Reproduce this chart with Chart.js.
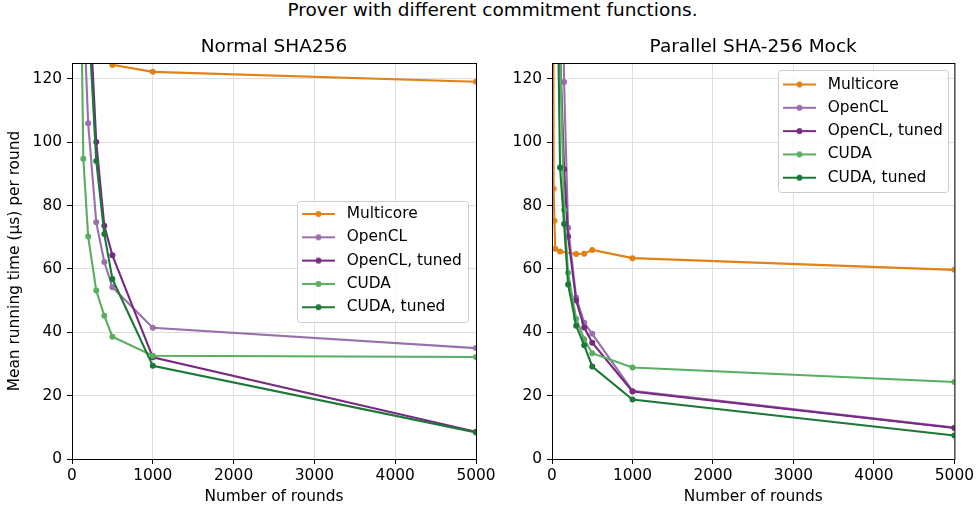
<!DOCTYPE html>
<html><head><meta charset="utf-8">
<script src="https://cdn.jsdelivr.net/npm/chart.js@4"></script>
<style>
html,body{margin:0;padding:0;background:#fff;width:977px;height:514px;overflow:hidden;}
#sup{position:absolute;left:0;top:0;width:985px;text-align:center;font-family:'DejaVu Sans';font-size:18.5px;line-height:20px;color:#000;}
canvas{position:absolute;top:0;}
</style></head><body>
<div id="sup">Prover with different commitment functions.</div>
<canvas id="c1" width="500" height="514" style="left:0px"></canvas>
<canvas id="c2" width="497" height="514" style="left:480px"></canvas>
<script>
// ---- data ----
const seriesLabels = ['Multicore', 'OpenCL', 'OpenCL, tuned', 'CUDA', 'CUDA, tuned'];
const seriesColors = ['#e08214', '#9970ab', '#762a83', '#5aae61', '#1b7837'];
const xTicks = [0, 1000, 2000, 3000, 4000, 5000];
const yTicks = [0, 20, 40, 60, 80, 100, 120];

// Left panel: Normal SHA256
const normalMulticoreRounds = [300, 400, 500, 1000, 5000];
const normalMulticoreTime   = [140, 128.5, 124.4, 122.2, 119.1];
const normalOpenclRounds = [100, 200, 300, 400, 500, 1000, 5000];
const normalOpenclTime   = [170, 106, 74.7, 62.2, 54.2, 41.4, 35.0];
const normalOpenclTunedRounds = [200, 300, 400, 500, 1000, 5000];
const normalOpenclTunedTime   = [152, 100.1, 73.6, 64.3, 32.1, 8.6];
const normalCudaRounds = [100, 140, 200, 300, 400, 500, 1000, 5000];
const normalCudaTime   = [170, 94.8, 70.2, 53.2, 45.2, 38.6, 32.6, 32.2];
const normalCudaTunedRounds = [200, 300, 400, 500, 1000, 5000];
const normalCudaTunedTime   = [141, 94.1, 71.0, 56.8, 29.4, 8.4];

// Right panel: Parallel SHA-256 Mock
const mockMulticoreRounds = [10, 20, 30, 40, 100, 300, 400, 500, 1000, 5000];
const mockMulticoreTime   = [250, 85.3, 75.2, 66.4, 65.5, 64.7, 64.8, 66.0, 63.4, 59.7];
const mockOpenclRounds = [100, 150, 200, 300, 400, 500, 1000, 5000];
const mockOpenclTime   = [220, 119, 73, 51, 43, 39.5, 21.5, 9.9];
const mockOpenclTunedRounds = [100, 150, 200, 300, 400, 500, 1000, 5000];
const mockOpenclTunedTime   = [129, 91.5, 70.2, 50.0, 41.5, 36.7, 21.3, 9.8];
const mockCudaRounds = [50, 100, 150, 200, 300, 400, 500, 1000, 5000];
const mockCudaTime   = [250, 130, 78.6, 58.8, 44.3, 37.8, 33.4, 28.9, 24.3];
const mockCudaTunedRounds = [50, 100, 150, 200, 300, 400, 500, 1000, 5000];
const mockCudaTunedTime   = [183, 92.0, 74.2, 55.1, 42.1, 35.9, 29.2, 18.8, 7.4];

// ---- drawing ----
Chart.defaults.font.family = "'DejaVu Sans'";
Chart.defaults.color = '#000';
const BASE = 15.4;

function makeHandle(color) {
  const c = document.createElement('canvas');
  c.width = 37; c.height = 10;
  const g = c.getContext('2d');
  g.strokeStyle = color; g.lineWidth = 2.1;
  g.beginPath(); g.moveTo(0, 5); g.lineTo(33, 5); g.stroke();
  g.fillStyle = color;
  g.beginPath(); g.arc(16.5, 5, 3, 0, Math.PI * 2); g.fill();
  return c;
}
const handles = seriesColors.map(makeHandle);

function roundRectPath(ctx, x, y, w, h, r) {
  ctx.beginPath();
  ctx.moveTo(x + r, y);
  ctx.lineTo(x + w - r, y); ctx.arcTo(x + w, y, x + w, y + r, r);
  ctx.lineTo(x + w, y + h - r); ctx.arcTo(x + w, y + h, x + w - r, y + h, r);
  ctx.lineTo(x + r, y + h); ctx.arcTo(x, y + h, x, y + h - r, r);
  ctx.lineTo(x, y + r); ctx.arcTo(x, y, x + r, y, r);
  ctx.closePath();
}

const framePlugin = {
  id: 'legendFrame',
  afterUpdate(chart, args, o) {
    const lg = chart.legend;
    if (!lg || !o || o.x === undefined) return;
    const pad = lg.options.labels.padding;
    lg.left = o.x + o.inset - pad;
    lg.top = o.y + o.firstRow - BASE / 2 - pad;
    lg.right = o.x + o.w;
    lg.bottom = o.y + o.h + 30;
    lg.width = lg.right - lg.left;
    lg.height = lg.bottom - lg.top;
    lg.adjustHitBoxes();
    if (!lg._framed) {
      const orig = lg.draw.bind(lg);
      lg.draw = function (area) {
        const ctx = chart.ctx;
        ctx.save();
        roundRectPath(ctx, o.x + 0.5, o.y + 0.5, o.w, o.h, 3);
        ctx.fillStyle = 'rgba(255,255,255,0.8)'; ctx.fill();
        ctx.strokeStyle = '#cccccc'; ctx.lineWidth = 1; ctx.stroke();
        ctx.restore();
        orig(area);
      };
      lg._framed = true;
    }
  },
  afterDatasetsDraw(chart) {
    const a = chart.chartArea, ctx = chart.ctx;
    ctx.save();
    ctx.strokeStyle = '#000'; ctx.lineWidth = 1;
    ctx.strokeRect(a.left + 0.5, a.top + 0.5, a.right - a.left, a.bottom - a.top);
    ctx.restore();
  }
};

function buildChart(id, title, rounds, times, yTitle, frame, rightPad) {
  const datasets = seriesLabels.map((lab, i) => ({
    label: lab,
    data: rounds[i].map((x, j) => ({ x: x, y: times[i][j] })),
    borderColor: seriesColors[i],
    backgroundColor: seriesColors[i],
    pointBackgroundColor: seriesColors[i],
    pointBorderWidth: 0,
    pointRadius: 3,
    borderWidth: 2.1,
    tension: 0,
    clip: 0,
    fill: false,
    order: 10 - i
  }));
  return new Chart(document.getElementById(id), {
    type: 'line',
    data: { datasets },
    plugins: [framePlugin],
    options: {
      responsive: false,
      animation: false,
      devicePixelRatio: 1,
      events: [],
      layout: { padding: { left: 0, right: rightPad, top: 0, bottom: 0 } },
      plugins: {
        tooltip: { enabled: false },
        title: {
          display: true, text: title, color: '#000', fullSize: false,
          font: { size: 18.5, weight: 'normal' },
          padding: { top: 35.9, bottom: 4.9 }
        },
        legend: {
          display: true,
          position: 'chartArea',
          align: 'start',
          labels: {
            usePointStyle: true,
            pointStyleWidth: 37,
            boxHeight: BASE,
            padding: 7.9,
            color: '#000',
            font: { size: BASE },
            generateLabels(chart) {
              const items = Chart.defaults.plugins.legend.labels.generateLabels(chart);
              items.forEach(it => { it.pointStyle = handles[it.datasetIndex]; it.fontColor = '#000'; });
              items.sort((a, b) => a.datasetIndex - b.datasetIndex);
              return items;
            }
          }
        },
        legendFrame: frame
      },
      scales: {
        x: {
          type: 'linear', min: 0, max: 5000,
          afterBuildTicks(s) { s.ticks = xTicks.map(v => ({ value: v })); },
          afterFit(s) { s.height = 55; },
          ticks: { autoSkip: false, maxRotation: 0, padding: 3, font: { size: BASE }, color: '#000', callback: v => String(v) },
          grid: { color: '#dedede', lineWidth: 1, tickColor: '#000', tickLength: 5, tickWidth: 1 },
          border: { display: false },
          title: { display: true, text: 'Number of rounds', color: '#000', font: { size: BASE }, padding: { top: 0, bottom: 7.8 } }
        },
        y: {
          type: 'linear', min: 0, max: 125,
          afterBuildTicks(s) { s.ticks = yTicks.map(v => ({ value: v })); },
          afterFit(s) { s.width = 72; },
          ticks: { autoSkip: false, padding: 5, font: { size: BASE }, color: '#000', callback: v => String(v) },
          grid: { color: '#dedede', lineWidth: 1, tickColor: '#000', tickLength: 5, tickWidth: 1 },
          border: { display: false },
          title: { display: !!yTitle, text: yTitle || '', color: '#000', font: { size: BASE }, padding: { top: 5.8, bottom: 0 } }
        }
      }
    }
  });
}

buildChart('c1', 'Normal SHA256',
  [normalMulticoreRounds, normalOpenclRounds, normalOpenclTunedRounds, normalCudaRounds, normalCudaTunedRounds],
  [normalMulticoreTime, normalOpenclTime, normalOpenclTunedTime, normalCudaTime, normalCudaTunedTime],
  'Mean running time (µs) per round',
  { x: 297, y: 201, w: 171, h: 121, inset: 5, firstRow: 13 }, 24);

buildChart('c2', 'Parallel SHA-256 Mock',
  [mockMulticoreRounds, mockOpenclRounds, mockOpenclTunedRounds, mockCudaRounds, mockCudaTunedRounds],
  [mockMulticoreTime, mockOpenclTime, mockOpenclTunedTime, mockCudaTime, mockCudaTunedTime],
  null,
  { x: 298, y: 70, w: 170, h: 122, inset: 5, firstRow: 14.5 }, 21);
</script>
</body></html>
